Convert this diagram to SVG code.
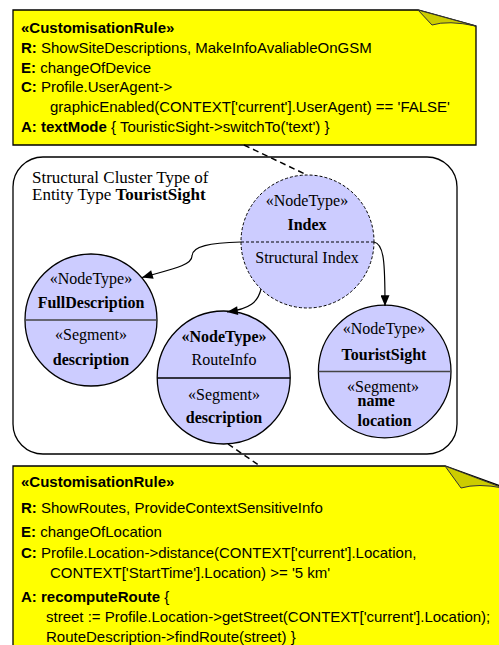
<svg xmlns="http://www.w3.org/2000/svg" width="499" height="645" viewBox="0 0 499 645">
<style>
.note{fill:#FFFF00;stroke:#000;stroke-width:1.3}
.fold{fill:#CCCC00;stroke:#333;stroke-width:1}
.nt{font-family:"Liberation Sans",Arial,sans-serif;font-size:15px;fill:#000}
.b{font-weight:bold}
.cl{fill:#fff;stroke:#000;stroke-width:1.3}
.ct{font-family:"Liberation Serif","Times New Roman",serif;font-size:17px;fill:#000}
.node{fill:#CCCCFF;stroke:#000;stroke-width:1.3}
.dashnode{fill:#CCCCFF;stroke:#000;stroke-width:1;stroke-dasharray:3,2}
.div{stroke:#000;stroke-width:1.3}
.divg{stroke:#444;stroke-width:1.6}
.st{font-family:"Liberation Serif","Times New Roman",serif;font-size:16px;fill:#000;text-anchor:middle}
.sl{font-family:"Liberation Serif","Times New Roman",serif;font-size:16px;fill:#000;text-anchor:start;font-weight:bold}
.conn{fill:none;stroke:#000;stroke-width:1.2}
.anchor{fill:none;stroke:#000;stroke-width:1.5;stroke-dasharray:6,4}
</style>
<defs>
<marker id="arr" viewBox="0 0 12 10" refX="12" refY="5" markerWidth="12" markerHeight="9" markerUnits="userSpaceOnUse" orient="auto">
<path d="M0,0 L12,5 L0,10 z" fill="#000"/>
</marker>
</defs>

<g id="rule1">
<path class="note" d="M13,10 L418,10 L476,26 L476,145 L13,145 Z"/>
<path class="fold" d="M418,10 L432,25 Q448,20 476,26 Z"/>
<text class="nt" x="21" y="33"><tspan class="b">«CustomisationRule»</tspan></text>
<text class="nt" x="21" y="53"><tspan class="b">R:</tspan> ShowSiteDescriptions, MakeInfoAvaliableOnGSM</text>
<text class="nt" x="21" y="72.5"><tspan class="b">E:</tspan> changeOfDevice</text>
<text class="nt" x="21" y="92"><tspan class="b">C:</tspan> Profile.UserAgent-&gt;</text>
<text class="nt" x="50" y="112">graphicEnabled(CONTEXT['current'].UserAgent) == 'FALSE'</text>
<text class="nt" x="21" y="132"><tspan class="b">A: textMode</tspan> { TouristicSight-&gt;switchTo('text') }</text>
</g>

<g id="cluster">
<rect class="cl" x="13" y="157" width="444" height="297" rx="30" ry="30"/>
<text class="ct" x="32" y="182.5">Structural Cluster Type of</text>
<text class="ct" x="32" y="199.5">Entity Type <tspan class="b">TouristSight</tspan></text>
</g>

<g id="rule2">
<path class="note" d="M13,466 L445,466 L503,487 L503,650 L13,650 Z"/>
<path class="fold" d="M445,466 L461,488 Q478,483 503,488 Z"/>
<text class="nt" x="21" y="487"><tspan class="b">«CustomisationRule»</tspan></text>
<text class="nt" x="21" y="513"><tspan class="b">R:</tspan> ShowRoutes, ProvideContextSensitiveInfo</text>
<text class="nt" x="21" y="537"><tspan class="b">E:</tspan> changeOfLocation</text>
<text class="nt" x="21" y="558"><tspan class="b">C:</tspan> Profile.Location-&gt;distance(CONTEXT['current'].Location,</text>
<text class="nt" x="50" y="578">CONTEXT['StartTime'].Location) &gt;= '5 km'</text>
<text class="nt" x="21" y="602"><tspan class="b">A: recomputeRoute</tspan> {</text>
<text class="nt" x="46" y="622">street := Profile.Location-&gt;getStreet(CONTEXT['current'].Location);</text>
<text class="nt" x="46" y="642">RouteDescription-&gt;findRoute(street)  }</text>
</g>

<g id="index">
<circle class="dashnode" cx="307.5" cy="241.5" r="66.5"/>
<line x1="241" y1="242" x2="374" y2="242" stroke="#000" stroke-width="1" stroke-dasharray="3,2"/>
<text class="st" x="307" y="206">«NodeType»</text>
<text class="st b" x="307" y="229.5">Index</text>
<text class="st" x="307" y="262.5">Structural Index</text>
</g>

<g id="fullDescription">
<circle class="node" cx="91" cy="320" r="66"/>
<line class="divg" x1="25" y1="320" x2="157" y2="320"/>
<text class="st" x="91" y="284">«NodeType»</text>
<text class="st b" x="91" y="307.5">FullDescription</text>
<text class="st" x="91" y="340">«Segment»</text>
<text class="st b" x="91" y="365">description</text>
</g>

<g id="routeInfo">
<circle class="node" cx="223.7" cy="377.5" r="66.5"/>
<line class="div" x1="157.2" y1="378" x2="290.2" y2="378"/>
<text class="st b" x="224" y="341.5">«NodeType»</text>
<text class="st" x="224" y="365">RouteInfo</text>
<text class="st" x="224" y="400">«Segment»</text>
<text class="st b" x="224" y="422.5">description</text>
</g>

<g id="touristSight">
<circle class="node" cx="384.7" cy="371.5" r="66.3"/>
<line class="divg" x1="318.4" y1="371.5" x2="451" y2="371.5"/>
<text class="st" x="384" y="333.5">«NodeType»</text>
<text class="st b" x="384" y="359.5">TouristSight</text>
<text class="st" x="383" y="391.5">«Segment»</text>
<text class="sl" x="357.5" y="406">name</text>
<text class="sl" x="357.5" y="426">location</text>
</g>

<g id="connectors">
<path class="conn" d="M241,242 C210,243 192,246 192,256 C192,266 168,270 142,277.5" marker-end="url(#arr)"/>
<path class="conn" d="M261,289 C258,302 250,309 227,312" marker-end="url(#arr)"/>
<path class="conn" d="M374,242 C384,244 385,262 385,306" marker-end="url(#arr)"/>
<line class="anchor" x1="244" y1="145" x2="307" y2="175"/>
<line class="anchor" x1="228" y1="444" x2="260" y2="466"/>
</g>
</svg>
